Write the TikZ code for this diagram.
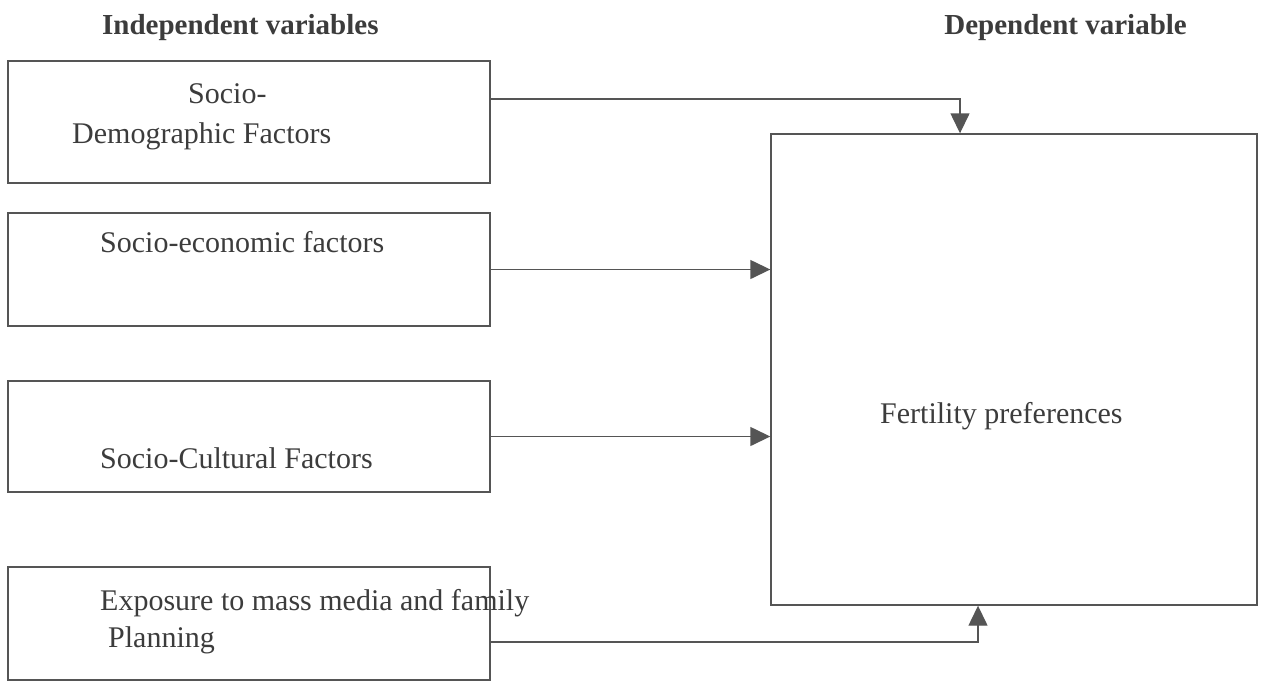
\documentclass[tikz,border=0pt]{standalone}
\usepackage{fontspec}
\setmainfont{Liberation Serif}
\usepackage{xcolor}
\usetikzlibrary{arrows.meta,positioning,calc}
\definecolor{linegray}{RGB}{85,85,85}
\definecolor{inkgray}{RGB}{60,60,60}

\begin{document}
\begin{tikzpicture}[
    x=1pt, y=-1pt,
    factor/.style={rectangle, draw=linegray, line width=1.4pt, inner sep=0pt, minimum width=482pt},
    outcome/.style={factor, minimum width=486pt, minimum height=471pt},
    label/.style={inner sep=0pt, anchor=base west, text=inkgray, font=\fontsize{30}{36}\selectfont},
    heading/.style={inner sep=0pt, text=inkgray, font=\fontsize{29}{34}\selectfont\bfseries},
    flow/.style={-{Triangle[length=20pt,width=19pt]}, draw=linegray, line width=1.4pt},
]
\useasboundingbox (0,0) rectangle (1265,681);

% Headings
\node[heading, anchor=base west] (hind) at (102,34) {Independent variables};
\node[heading, anchor=base east] (hdep) at (1187,34) {Dependent variable};

% Independent variable boxes
\node[factor, minimum height=122pt] (b1) at (249,122) {};
\node[factor, minimum height=113pt] (b2) at (249,269.5) {};
\node[factor, minimum height=111pt] (b3) at (249,436.5) {};
\node[factor, minimum height=113pt] (b4) at (249,623.5) {};

\node[label] (t1a) at (188,103) {Socio-};
\node[label] (t1b) at (72,143) {Demographic Factors};
\node[label] (t2) at (100,252) {Socio-economic factors};
\node[label] (t3) at (100,468) {Socio-Cultural Factors};
\node[label] (t4a) at (100,610) {Exposure to mass media and family};
\node[label] (t4b) at (108,647) {Planning};

% Dependent variable box
\node[outcome] (fp) at (1014,369.5) {};
\node[label] (tfp) at (880,423) {Fertility preferences};

% Connectors
\draw[flow] ([yshift=23pt]b1.east) -| ([xshift=-54pt]fp.north);
\draw[flow] (b2.east) -- (b2.east -| fp.west);
\draw[flow] (b3.east) -- (b3.east -| fp.west);
\draw[flow] ([yshift=-18.5pt]b4.east) -| ([xshift=-36pt]fp.south);

\end{tikzpicture}
\end{document}
